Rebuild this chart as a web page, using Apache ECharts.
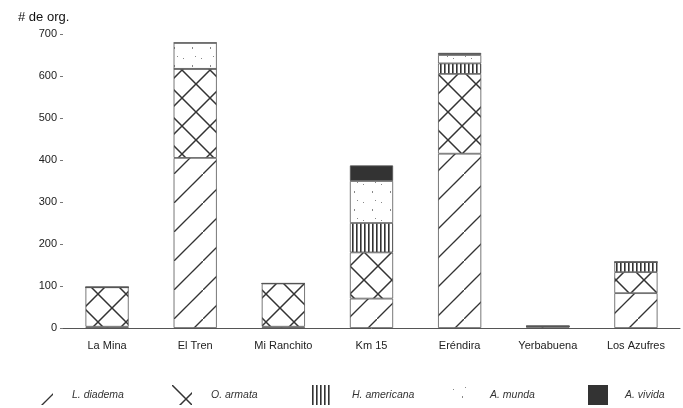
<!DOCTYPE html>
<html>
<head>
<meta charset="utf-8">
<script src="https://cdn.jsdelivr.net/npm/echarts@6/dist/echarts.min.js"></script>
<style>
  html, body { margin: 0; padding: 0; background: #fff; }
  #chart { width: 683px; height: 408px; }
</style>
</head>
<body>
<div id="chart"></div>
<script>
var categories = ['La Mina', 'El Tren', 'Mi Ranchito', 'Km 15', 'Eréndira', 'Yerbabuena', 'Los Azufres'];
var diadema   = [3, 405, 3, 70, 415, 4, 83];
var armata    = [94, 212, 103, 110, 190, 0, 50];
var americana = [0, 0, 0, 70, 25, 0, 24];
var munda     = [0, 62, 0, 100, 20, 0, 0];
var vivida    = [0, 0, 0, 37, 5, 0, 0];
var yTicks = [0, 100, 200, 300, 400, 500, 600, 700];

// pattern tiles
function tile(w, h, draw) {
	var c = document.createElement('canvas');
	c.width = w;
	c.height = h;
	var ctx = c.getContext('2d');
	ctx.fillStyle = '#fff';
	ctx.fillRect(0, 0, w, h);
	ctx.strokeStyle = '#333';
	ctx.fillStyle = '#333';
	draw(ctx);
	return { image: c, repeat: 'repeat' };
}

var patDiag = tile(29, 29, function (ctx) {
	ctx.lineWidth = 1.3;
	ctx.beginPath();
	ctx.moveTo(0, 29); ctx.lineTo(29, 0);
	ctx.stroke();
});
var patCross = tile(28, 28, function (ctx) {
	ctx.lineWidth = 1.5;
	ctx.beginPath();
	ctx.moveTo(0, 0); ctx.lineTo(28, 28);
	ctx.moveTo(0, 28); ctx.lineTo(28, 0);
	ctx.stroke();
});
var patVert = tile(4, 4, function (ctx) {
	ctx.fillRect(0, 0, 1.6, 4);
});
var patDots = tile(18, 18, function (ctx) {
	ctx.fillStyle = '#888';
	ctx.fillRect(3, 4, 1, 1);
	ctx.fillRect(12, 11, 1, 2);
	ctx.fillRect(15, 2, 1, 1);
});

var names = ['L. diadema', 'O. armata', 'H. americana', 'A. munda', 'A. vivida'];
var values = [diadema, armata, americana, munda, vivida];
var fills = [patDiag, patCross, patVert, patDots, '#333'];
var legendLeft = [33, 172, 312, 450, 588];
var legendPad = [19, 19, 20, 20, 17];

var chart = echarts.init(document.getElementById('chart'), null, { renderer: 'canvas' });

var series = names.map(function (n, i) {
	return {
		name: n,
		type: 'bar',
		stack: 'total',
		barWidth: '49%',
		data: values[i],
		itemStyle: {
			color: fills[i],
			borderColor: '#555',
			borderWidth: 0.8
		}
	};
});

var legends = names.map(function (n, i) {
	return {
		data: [n],
		left: legendLeft[i],
		top: 385,
		padding: 0,
		itemWidth: 20,
		itemHeight: 20,
		itemGap: 0,
		icon: 'rect',
		itemStyle: { borderWidth: 0 },
		textStyle: {
			fontSize: 10.5,
			fontStyle: 'italic',
			color: '#333',
			fontFamily: 'Liberation Sans',
			padding: [0, 0, 0, legendPad[i] - 5]
		}
	};
});

var option = {
	backgroundColor: '#fff',
	animation: false,
	legend: legends,
	grid: { left: 63, right: 3, top: 34, bottom: 80 },
	xAxis: {
		type: 'category',
		data: categories,
		axisLine: { lineStyle: { color: '#555', width: 1 } },
		axisTick: { show: false },
		axisLabel: { color: '#222', fontSize: 11, fontFamily: 'Liberation Sans', margin: 12 }
	},
	yAxis: {
		type: 'value',
		min: yTicks[0],
		max: yTicks[yTicks.length - 1],
		interval: 100,
		name: '# de org.',
		nameLocation: 'end',
		nameGap: 10,
		nameTextStyle: { color: '#111', fontSize: 13, fontFamily: 'Liberation Sans', align: 'left', padding: [0, 0, 0, -45] },
		axisLine: { show: false },
		axisTick: { show: true, length: 3, lineStyle: { color: '#777' } },
		splitLine: { show: false },
		axisLabel: { color: '#222', fontSize: 11, fontFamily: 'Liberation Sans', margin: 6 }
	},
	series: series
};

chart.setOption(option);
</script>
</body>
</html>
